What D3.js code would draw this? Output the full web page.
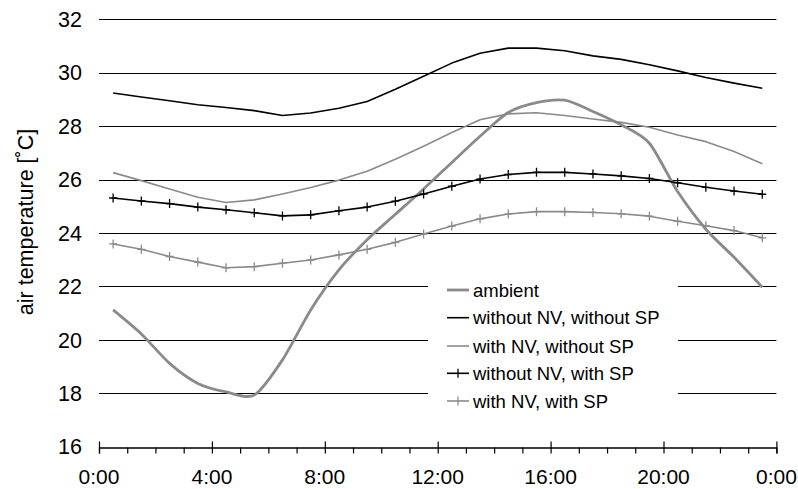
<!DOCTYPE html>
<html><head><meta charset="utf-8">
<script src="https://cdn.jsdelivr.net/npm/d3@7"></script>
<style>body{margin:0;background:#fff}svg{display:block}text{font-family:"Liberation Sans",Arial,sans-serif;fill:#000}</style>
</head><body>
<svg id="c" width="798" height="489"></svg>
<script>
const hours = d3.range(24).map(i => i + 0.5);
const ambient = [21.12,20.22,19.12,18.37,18.05,17.93,19.25,21.12,22.62,23.75,24.70,25.65,26.64,27.62,28.51,28.88,28.97,28.55,28.05,27.36,25.55,24.14,23.09,21.97];
const noNVnoSP = [29.24,29.09,28.95,28.80,28.70,28.58,28.40,28.49,28.67,28.92,29.38,29.87,30.36,30.73,30.92,30.92,30.82,30.63,30.50,30.30,30.07,29.82,29.61,29.42];
const NVnoSP = [26.26,25.96,25.65,25.34,25.14,25.24,25.46,25.70,25.98,26.31,26.76,27.25,27.76,28.24,28.46,28.50,28.40,28.27,28.14,27.96,27.67,27.42,27.05,26.59];
const noNVSP = [25.31,25.20,25.10,24.97,24.87,24.76,24.64,24.68,24.83,24.97,25.19,25.46,25.75,26.02,26.19,26.27,26.27,26.21,26.14,26.04,25.88,25.71,25.57,25.45];
const NVSP = [23.59,23.39,23.12,22.91,22.70,22.74,22.87,22.99,23.18,23.39,23.65,23.96,24.26,24.53,24.71,24.80,24.80,24.77,24.72,24.63,24.44,24.27,24.09,23.82];
const seriesNames = ["ambient","without NV, without SP","with NV, without SP","without NV, with SP","with NV, with SP"];
const yTicks = [16,18,20,22,24,26,28,30,32];
const xMajor = [0,4,8,12,16,20,24];
const xLabels = ["0:00","4:00","8:00","12:00","16:00","20:00","0:00"];

const GRAY = "#8a8a8a";
const styles = [
  {data: ambient, color: GRAY, width: 2.8, marker: false, smooth: true},
  {data: noNVnoSP, color: "#000", width: 1.6, marker: false},
  {data: NVnoSP, color: GRAY, width: 1.6, marker: false},
  {data: noNVSP, color: "#000", width: 1.6, marker: true},
  {data: NVSP, color: GRAY, width: 1.6, marker: true}
];

const svg = d3.select("#c");
const x = d3.scaleLinear().domain([0,24]).range([99, 776.4]);
const y = d3.scaleLinear().domain([16,32]).range([446.7, 19.3]);

// gridlines
svg.append("g").selectAll("line").data(yTicks.filter(v => v > 16)).join("line")
  .attr("x1", x(0)).attr("x2", x(24))
  .attr("y1", d => Math.round(y(d)) + 0.5).attr("y2", d => Math.round(y(d)) + 0.5)
  .attr("stroke", "#000").attr("stroke-width", 1.2);

// y labels
svg.append("g").selectAll("text").data(yTicks).join("text")
  .attr("x", 82).attr("y", d => y(d)).attr("dy", "0.36em")
  .attr("text-anchor", "end").style("font-size", "21.5px").text(d => d);

// x axis
const axY = Math.round(y(16)) + 0.5;
const xa = svg.append("g").attr("transform", `translate(0,${axY})`);
xa.call(d3.axisBottom(x).tickValues(d3.range(0,25)).tickSize(6).tickFormat(""));
xa.select(".domain").attr("stroke","#000").attr("stroke-width",1.3);
xa.selectAll(".tick line").attr("stroke","#000").attr("stroke-width",1.2);
xa.selectAll(".tick").filter(d => d % 4 === 0).select("line").attr("y1", -6).attr("y2", 6);
svg.append("g").selectAll("text").data(xMajor).join("text")
  .attr("x", d => x(d)).attr("y", 484).attr("text-anchor","middle")
  .style("font-size","21px").text((d,i) => xLabels[i]);

// y title
svg.append("text").attr("transform","translate(33,222) rotate(-90)")
  .attr("text-anchor","middle").style("font-size","21.5px").text("air temperature [˚C]");

// legend box
const lg = svg.append("g");
lg.append("rect").attr("x",428).attr("y",272).attr("width",250).attr("height",146).attr("fill","#fff");

// series
const plot = svg.append("g");
styles.forEach(s => {
  const line = d3.line().x((d,i) => x(hours[i])).y(d => y(d));
  if (s.smooth) line.curve(d3.curveCardinal.tension(0.2));
  plot.append("path").datum(s.data).attr("d", line)
    .attr("fill","none").attr("stroke", s.color).attr("stroke-width", s.width)
    .attr("stroke-linejoin","round");
  if (s.marker) {
    plot.append("g").selectAll("path").data(s.data).join("path")
      .attr("d", (d,i) => `M${x(hours[i])-4},${y(d)}h8M${x(hours[i])},${y(d)-4.5}v9`)
      .attr("stroke", s.color).attr("stroke-width", 1.3).attr("fill","none");
  }
});

// legend entries
const rows = [290, 317.7, 346, 373.3, 401];
styles.forEach((s,i) => {
  const g = lg.append("g");
  g.append("line").attr("x1",447).attr("x2",469).attr("y1",rows[i]).attr("y2",rows[i])
    .attr("stroke", s.color).attr("stroke-width", s.width);
  if (s.marker) g.append("path").attr("d",`M458,${rows[i]-4.5}v9`).attr("stroke",s.color).attr("stroke-width",1.3);
  g.append("text").attr("x",473).attr("y",rows[i]).attr("dy","0.36em").style("font-size","18.5px").text(seriesNames[i]);
});
</script>
</body></html>
